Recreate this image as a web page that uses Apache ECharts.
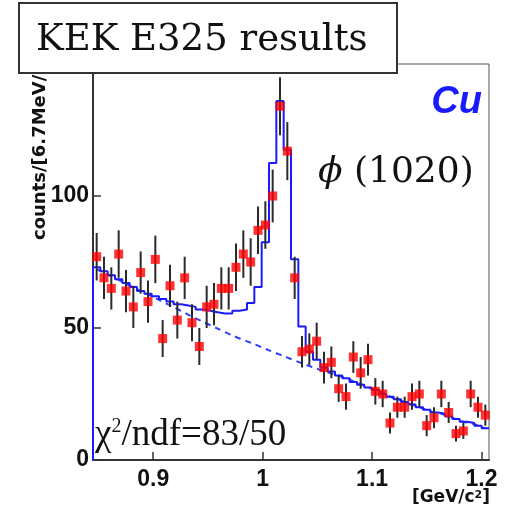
<!DOCTYPE html>
<html>
<head>
<meta charset="utf-8">
<script src="https://cdn.jsdelivr.net/npm/echarts@6/dist/echarts.min.js"></script>
<style>
  html, body { margin: 0; padding: 0; background: #fff; }
  #chart { width: 512px; height: 513px; }
</style>
</head>
<body>
<div id="chart"></div>
<script>
// Binning: 6.7 MeV bins starting at 0.845 GeV
const binWidth = 0.0067;
const xStart = 0.845;

// Measured counts per bin and their error bars
const counts = [77, 69, 65, 78, 64, 58, 71, 60, 76, 46, 66, 53, 69, 52, 43, 58, 59, 65,
  65, 73, 78, 75, 87, 89, 100, 134, 117, 69, 41, 42, 45, 35, 37, 27, 24, 39, 33, 38,
  26, 25, 14, 20, 20, 24, 25, 13, 16, 25, 18, 10, 11, 25, 20, 17];
const errors = [9, 8, 8, 9, 8, 8, 8, 8, 9, 7, 8, 7, 8, 7, 7, 8, 8, 8,
  8, 9, 9, 9, 9, 9, 10, 11, 11, 8, 6, 6, 7, 6, 6, 5, 5, 6, 6, 6,
  5, 5, 4, 4, 4, 5, 5, 4, 4, 5, 4, 3, 3, 5, 4, 4];

// Fit result (histogram) and background under it
const fitTotal = [73, 71.5, 70, 68.5, 67, 65.5, 64, 63, 62, 61, 60, 59, 58.5, 58, 57, 56.5, 56, 55.5,
  55.5, 56.5, 57, 59.5, 65.5, 82.5, 112.5, 136, 117.5, 76, 50.6, 41, 38, 35, 33.5, 32, 31, 29.5, 28.5, 27.5,
  26.5, 25, 24, 23, 22, 21, 20, 19, 18, 17.5, 16.5, 15.5, 14.5, 14, 13, 12];
const fitBackground = [72.3, 71, 69.6, 68.2, 66.8, 65.4, 64, 62.7, 61.3, 59.9, 58.6, 57.2, 55.8, 54.3, 53, 51.7, 50.4, 49.1,
  47.8, 46.6, 45.5, 44.4, 43.3, 42.1, 41, 39.9, 38.8, 37.7, 36.6, 35.6, 34.6, 33.7, 32.8, 31.9, 31, 29.9, 28.8, 27.6,
  26.5, 25.5, 24, 23, 22, 21, 20, 19, 18, 17.5, 16.5, 15.5, 14.5, 14, 13, 12];

const xTicks = [0.9, 1.0, 1.1, 1.2];
const yTicks = [0, 50, 100];

const chart = echarts.init(document.getElementById('chart'));

const centers = counts.map((c, i) => xStart + (i + 0.5) * binWidth);
const points = counts.map((c, i) => [centers[i], c, errors[i]]);
const bgLine = fitBackground.map((v, i) => [centers[i], v]);

// step outline of the fit, starting from zero at the left edge
const stepPts = [[xStart, 0]];
fitTotal.forEach((v, i) => {
  const lo = xStart + i * binWidth;
  stepPts.push([lo, v], [lo + binWidth, v]);
});

const tickFont = { fontFamily: 'Liberation Sans', fontWeight: 'bold', fontSize: 23, color: '#111' };
const blue = '#1a1aff';

const option = {
  backgroundColor: '#fff',
  animation: false,
  grid: { left: 93, right: 23, top: 64, bottom: 53, show: true, borderColor: '#555', borderWidth: 1 },
  xAxis: {
    type: 'value',
    min: xStart,
    max: xStart + counts.length * binWidth,
    axisLine: { onZero: false, lineStyle: { color: '#333', width: 2 } },
    axisTick: { inside: true, length: 8, customValues: xTicks, lineStyle: { color: '#333', width: 1.5 } },
    axisLabel: Object.assign({ customValues: xTicks, margin: 8, formatter: v => String(v) }, tickFont),
    splitLine: { show: false }
  },
  yAxis: {
    type: 'value',
    min: 0,
    max: 150,
    axisLine: { show: true, lineStyle: { color: '#333', width: 2 } },
    axisTick: { show: true, inside: true, length: 8, customValues: yTicks, lineStyle: { color: '#333', width: 1.5 } },
    axisLabel: Object.assign({ customValues: yTicks, margin: 4 }, tickFont),
    splitLine: { show: false }
  },
  series: [
    {
      name: 'background',
      type: 'line',
      data: bgLine,
      smooth: true,
      showSymbol: false,
      lineStyle: { color: '#3040ff', width: 2, type: [6, 5] },
      z: 2
    },
    {
      name: 'fit',
      type: 'line',
      data: stepPts,
      showSymbol: false,
      lineStyle: { color: blue, width: 2 },
      z: 3
    },
    {
      name: 'errors',
      type: 'custom',
      data: points,
      renderItem: (params, api) => {
        const x = api.value(0), y = api.value(1), e = api.value(2);
        const p1 = api.coord([x, y - e]);
        const p2 = api.coord([x, y + e]);
        return {
          type: 'line',
          shape: { x1: p1[0], y1: p1[1], x2: p2[0], y2: p2[1] },
          style: { stroke: '#2a2a2a', lineWidth: 2 }
        };
      },
      z: 4
    },
    {
      name: 'data',
      type: 'scatter',
      data: points.map(p => [p[0], p[1]]),
      symbol: 'rect',
      symbolSize: 9,
      itemStyle: { color: '#ff0000' },
      z: 5
    }
  ],
  graphic: [
    {
      type: 'text', x: 40, y: 240, rotation: Math.PI / 2, z: 10,
      style: {
        text: '{a|counts/[6.7MeV/c}{s|2}{a|]}',
        align: 'left', verticalAlign: 'middle',
        rich: {
          a: { fontFamily: 'DejaVu Sans', fontWeight: 'bold', fontSize: 18, fill: '#111' },
          s: { fontFamily: 'DejaVu Sans', fontWeight: 'bold', fontSize: 11, fill: '#111', verticalAlign: 'top' }
        }
      }
    },
    {
      type: 'text', x: 490, y: 498, z: 10,
      style: {
        text: '{a|[GeV/c}{s|2}{a|]}',
        align: 'right', verticalAlign: 'middle',
        rich: {
          a: { fontFamily: 'DejaVu Sans', fontWeight: 'bold', fontSize: 17, fill: '#111' },
          s: { fontFamily: 'DejaVu Sans', fontWeight: 'bold', fontSize: 11, fill: '#111', verticalAlign: 'top' }
        }
      }
    },
    {
      type: 'text', x: 482, y: 103, z: 10,
      style: {
        text: 'Cu', align: 'right', verticalAlign: 'middle',
        font: 'italic bold 38px "Liberation Sans"', fill: blue
      }
    },
    {
      type: 'text', x: 318, y: 173, z: 10,
      style: {
        text: '{i|ϕ} (1020)', align: 'left', verticalAlign: 'middle',
        font: '36px "DejaVu Serif"', fill: '#111',
        rich: { i: { fontFamily: 'DejaVu Serif', fontStyle: 'italic', fontSize: 36, fill: '#111' } }
      }
    },
    {
      type: 'text', x: 95, y: 435, z: 10,
      style: {
        text: '{c|χ}{s|2}{c|/ndf=83/50}', align: 'left', verticalAlign: 'middle',
        rich: {
          c: { fontFamily: 'Liberation Serif', fontSize: 37, fill: '#111' },
          s: { fontFamily: 'Liberation Serif', fontSize: 20, fill: '#111', verticalAlign: 'top' }
        }
      }
    },
    // title box drawn over everything
    {
      type: 'rect', z: 100, shape: { x: 19, y: 3, width: 378, height: 70 },
      style: { fill: '#fff', stroke: '#333', lineWidth: 2 }
    },
    {
      type: 'text', z: 101, x: 36, y: 40,
      style: {
        text: 'KEK E325 results', align: 'left', verticalAlign: 'middle',
        font: '37px "DejaVu Serif"', fill: '#111'
      }
    }
  ]
};

chart.setOption(option);
window.addEventListener('resize', () => chart.resize());
</script>
</body>
</html>
